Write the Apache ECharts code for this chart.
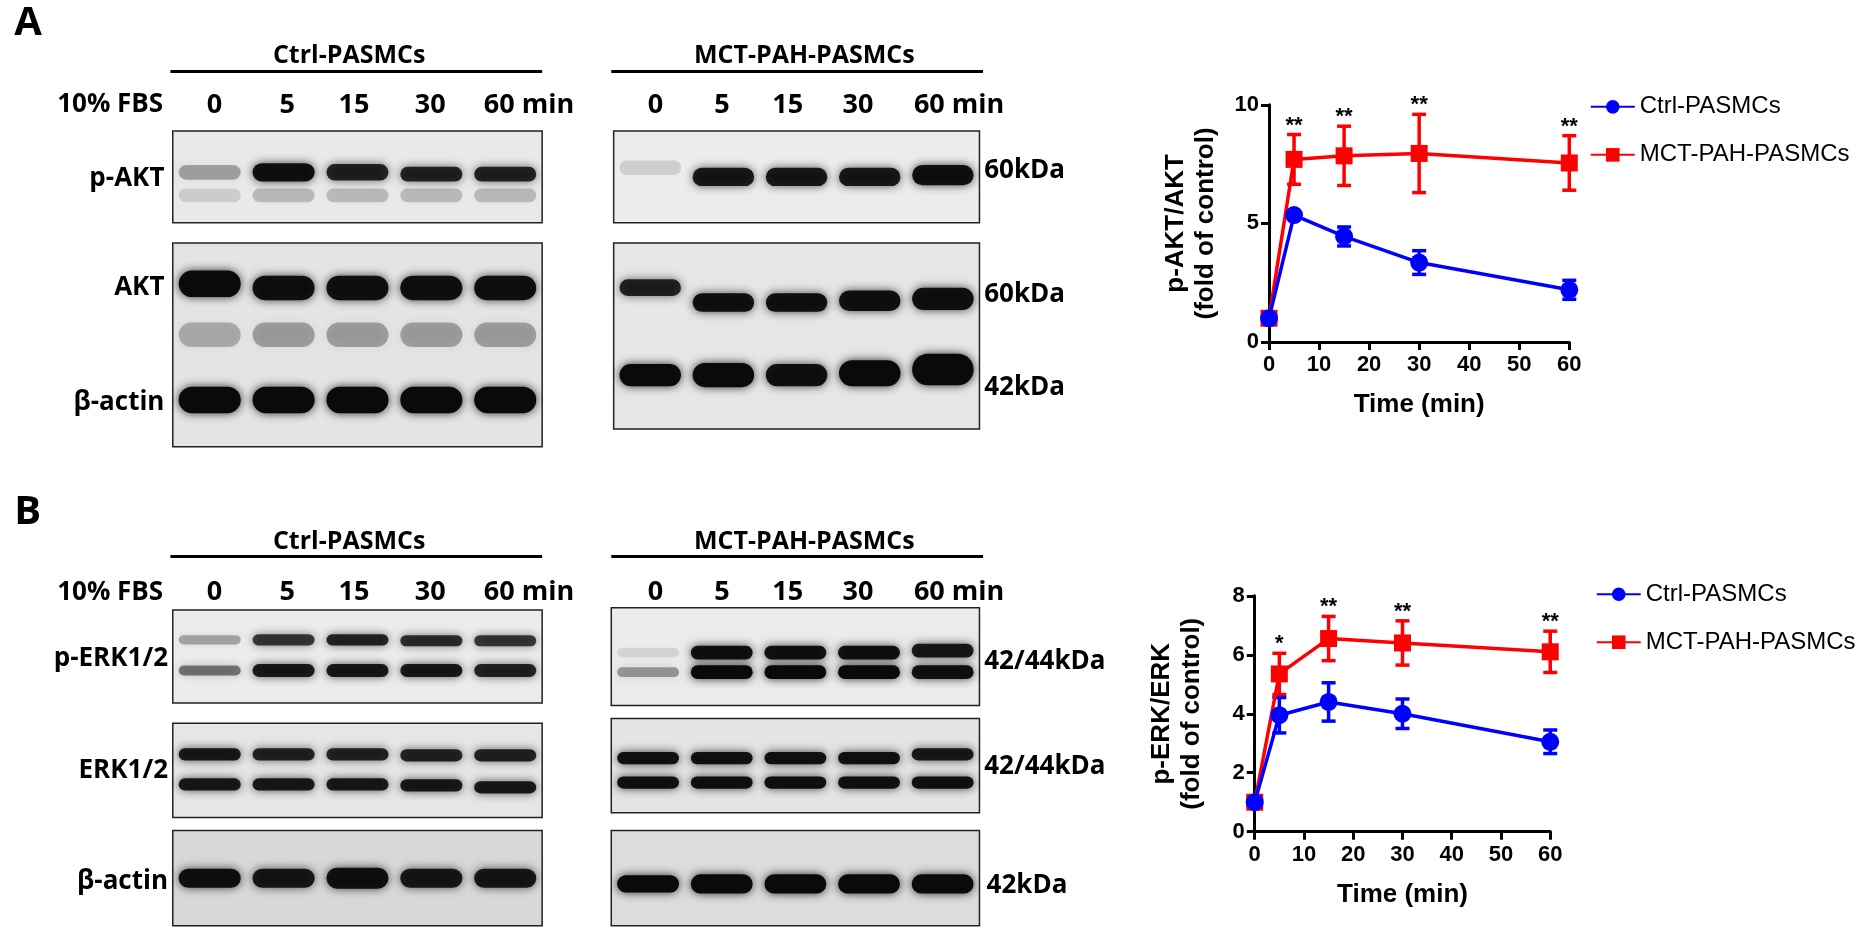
<!DOCTYPE html>
<html><head><meta charset="utf-8">
<script src="https://cdn.jsdelivr.net/npm/echarts@6/dist/echarts.min.js"></script>
<style>html,body{margin:0;background:#fff}#c{width:1866px;height:945px}</style></head>
<body><div id="c"></div>
<script>
// ---- data ----
const timePoints = [0, 5, 15, 30, 60];
const aktCtrl = [1, 5.35, 4.45, 3.35, 2.2];
const aktCtrlErr = [0.05, 0.1, 0.4, 0.5, 0.4];
const aktMct = [1, 7.7, 7.85, 7.95, 7.55];
const aktMctErr = [0.05, 1.05, 1.25, 1.65, 1.15];
const aktStars = ['', '**', '**', '**', '**'];
const erkCtrl = [1, 3.95, 4.4, 4.0, 3.05];
const erkCtrlErr = [0.05, 0.6, 0.65, 0.5, 0.4];
const erkMct = [1, 5.35, 6.55, 6.4, 6.1];
const erkMctErr = [0.05, 0.7, 0.75, 0.75, 0.7];
const erkStars = ['', '*', '**', '**', '**'];
const laneLabels = ['0', '5', '15', '30', '60 min'];
// blot bands: [lane, vertical fraction, darkness, thickness fraction]
const pAktCtrl = [[0,0.45,0.3,0.16],[1,0.45,0.95,0.2],[2,0.45,0.85,0.18],[3,0.47,0.85,0.16],[4,0.47,0.85,0.16],[0,0.7,0.12,0.15],[1,0.7,0.2,0.15],[2,0.7,0.2,0.15],[3,0.7,0.2,0.15],[4,0.7,0.2,0.15]];
const pAktMct = [[0,0.4,0.12,0.16],[1,0.5,0.9,0.2],[2,0.5,0.9,0.2],[3,0.5,0.9,0.2],[4,0.48,0.95,0.22]];
const aktActCtrl = [[0,0.2,1,0.13],[1,0.22,0.95,0.12],[2,0.22,0.95,0.12],[3,0.22,0.95,0.12],[4,0.22,0.95,0.12],[0,0.45,0.25,0.12],[1,0.45,0.3,0.12],[2,0.45,0.3,0.12],[3,0.45,0.3,0.12],[4,0.45,0.3,0.12],[0,0.77,1,0.13],[1,0.77,1,0.13],[2,0.77,1,0.13],[3,0.77,1,0.13],[4,0.77,1,0.13]];
const aktActMct = [[0,0.24,0.85,0.09],[1,0.32,0.95,0.1],[2,0.32,0.95,0.1],[3,0.31,0.95,0.11],[4,0.3,0.95,0.12],[0,0.71,1,0.12],[1,0.71,1,0.13],[2,0.71,0.95,0.12],[3,0.7,1,0.14],[4,0.68,1,0.17]];
const pErkCtrl = [[0,0.32,0.3,0.1],[1,0.32,0.75,0.12],[2,0.32,0.85,0.12],[3,0.33,0.8,0.12],[4,0.33,0.75,0.12],[0,0.65,0.5,0.11],[1,0.65,0.9,0.14],[2,0.65,0.9,0.14],[3,0.65,0.9,0.14],[4,0.65,0.85,0.14]];
const pErkMct = [[0,0.46,0.1,0.1],[1,0.46,0.95,0.14],[2,0.46,0.95,0.14],[3,0.46,0.95,0.14],[4,0.44,0.9,0.14],[0,0.66,0.35,0.1],[1,0.66,1,0.14],[2,0.66,1,0.14],[3,0.66,1,0.14],[4,0.66,0.95,0.14]];
const erkCtrlBl = [[0,0.33,0.9,0.13],[1,0.33,0.85,0.13],[2,0.33,0.85,0.13],[3,0.34,0.85,0.13],[4,0.34,0.85,0.13],[0,0.65,0.9,0.13],[1,0.65,0.9,0.13],[2,0.65,0.9,0.13],[3,0.66,0.9,0.13],[4,0.68,0.9,0.13]];
const erkMctBl = [[0,0.42,0.95,0.13],[1,0.42,0.95,0.13],[2,0.42,0.95,0.13],[3,0.42,0.95,0.13],[4,0.38,0.9,0.13],[0,0.68,0.95,0.13],[1,0.68,0.95,0.13],[2,0.68,0.95,0.13],[3,0.68,0.95,0.13],[4,0.68,0.95,0.13]];
const actCtrlBl = [[0,0.5,0.95,0.2],[1,0.5,0.9,0.2],[2,0.5,0.95,0.22],[3,0.5,0.9,0.2],[4,0.5,0.9,0.2]];
const actMctBl = [[0,0.56,1,0.18],[1,0.56,1,0.2],[2,0.56,1,0.2],[3,0.56,1,0.2],[4,0.56,1,0.2]];

// ---- layout (reference px scaled) ----
const S = 1866 / 1566;
const p = v => v * S;
const blots = [
  [145,110,455,187,pAktCtrl,'#e9e9e9'],[515,110,822,187,pAktMct,'#ececec'],
  [145,204,455,375,aktActCtrl,'#e4e4e4'],[515,204,822,360,aktActMct,'#e6e6e6'],
  [145,512,455,590,pErkCtrl,'#ececec'],[513,510,822,592,pErkMct,'#ebebeb'],
  [145,607,455,686,erkCtrlBl,'#e6e6e6'],[513,603,822,682,erkMctBl,'#e4e4e4'],
  [145,697,455,777,actCtrlBl,'#d8d8d8'],[513,697,822,777,actMctBl,'#dcdcdc']
];
const grids = [], xAxes = [], yAxes = [], series = [];
blots.forEach((b, i) => {
  grids.push({left:p(b[0]), top:p(b[1]), width:p(b[2]-b[0]), height:p(b[3]-b[1]), show:true, backgroundColor:b[5], borderColor:'#222', borderWidth:1.5});
  xAxes.push({gridIndex:i, type:'value', min:0, max:5, show:false});
  yAxes.push({gridIndex:i, type:'value', min:0, max:1, inverse:true, show:false});
  series.push({type:'custom', xAxisIndex:i, yAxisIndex:i, data:b[4], silent:true, clip:true,
    renderItem:(params, api) => {
      const c = api.coord([api.value(0)+0.5, api.value(1)]);
      const w = api.size([0.84, 0])[0];
      const h = api.size([0, api.value(3)])[1];
      return {type:'rect', shape:{x:c[0]-w/2, y:c[1]-h/2, width:w, height:h, r:h/2},
        style:{fill:'rgba(10,10,10,'+api.value(2)+')', shadowBlur:10, shadowColor:'rgba(0,0,0,'+(api.value(2)*0.8)+')'}};
    }});
});

const charts = [
  {g:[p(1065),p(88),p(252),p(199)], ymax:10, yint:5, ctrl:aktCtrl, ce:aktCtrlErr, mct:aktMct, me:aktMctErr, stars:aktStars, name:'p-AKT/AKT\n(fold of control)', leg:p(88), lx:p(1330)},
  {g:[p(1053),p(500),p(248),p(198)], ymax:8, yint:2, ctrl:erkCtrl, ce:erkCtrlErr, mct:erkMct, me:erkMctErr, stars:erkStars, name:'p-ERK/ERK\n(fold of control)', leg:p(497), lx:p(1335)}
];
const legends = [];
const font = 'Liberation Sans';
charts.forEach((c, k) => {
  const gi = grids.length;
  grids.push({left:c.g[0], top:c.g[1], width:c.g[2], height:c.g[3]});
  xAxes.push({gridIndex:gi, type:'value', min:0, max:60, interval:10,
    name:'Time (min)', nameLocation:'middle', nameGap:50, nameTextStyle:{fontFamily:font, fontWeight:'bold', fontSize:26, color:'#000'},
    axisLine:{lineStyle:{color:'#000', width:3}}, axisTick:{length:8, lineStyle:{width:3, color:'#000'}},
    axisLabel:{fontFamily:font, fontWeight:'bold', fontSize:22, color:'#000', margin:12}, splitLine:{show:false}});
  yAxes.push({gridIndex:gi, type:'value', min:0, max:c.ymax, interval:c.yint,
    name:c.name, nameLocation:'middle', nameGap:48, nameRotate:90, nameTextStyle:{fontFamily:font, fontWeight:'bold', fontSize:26, color:'#000', lineHeight:30},
    axisLine:{show:true, lineStyle:{color:'#000', width:3}}, axisTick:{show:true, length:8, lineStyle:{width:3, color:'#000'}},
    axisLabel:{fontFamily:font, fontWeight:'bold', fontSize:22, color:'#000', margin:10}, splitLine:{show:false}});
  const mk = (name, vals, errs, color, sym, stars) => {
    const pts = timePoints.map((t, i) => [t, vals[i]]);
    series.push({type:'line', name, xAxisIndex:gi, yAxisIndex:gi, data:pts, color,
      lineStyle:{width:3.5, color}, symbol:sym, symbolSize:sym==='circle'?18:17, itemStyle:{color}, z:sym==='circle'?4:3});
    series.push({type:'custom', xAxisIndex:gi, yAxisIndex:gi, silent:true, z:2,
      data:timePoints.map((t, i) => [t, vals[i], errs[i], i]),
      renderItem:(params, api) => {
        const x = api.value(0), y = api.value(1), e = api.value(2);
        const top = api.coord([x, y+e]), bot = api.coord([x, y-e]);
        const st = {stroke:color, lineWidth:3.5};
        const ch = [
          {type:'line', shape:{x1:top[0], y1:top[1], x2:bot[0], y2:bot[1]}, style:st},
          {type:'line', shape:{x1:top[0]-7, y1:top[1], x2:top[0]+7, y2:top[1]}, style:st},
          {type:'line', shape:{x1:bot[0]-7, y1:bot[1], x2:bot[0]+7, y2:bot[1]}, style:st}];
        if (stars) ch.push({type:'text', style:{text:stars[api.value(3)], x:top[0], y:top[1]+2, align:'center', verticalAlign:'bottom', font:'bold 22px "Liberation Sans"', fill:'#000'}});
        return {type:'group', children:ch};
      }});
  };
  mk('MCT-PAH-PASMCs', c.mct, c.me, '#ff0000', 'rect', c.stars);
  mk('Ctrl-PASMCs', c.ctrl, c.ce, '#0000ff', 'circle', null);
  legends.push({orient:'vertical', left:c.lx, top:c.leg-15, itemGap:24, itemWidth:44, itemHeight:17,
    data:['Ctrl-PASMCs','MCT-PAH-PASMCs'], textStyle:{fontFamily:font, fontSize:24, color:'#000'}});
});

// ---- text ----
const T = (text, x, y, opt={}) => ({type:'text', x:p(x), y:p(y), style:Object.assign({text, font:'bold '+(opt.size||26)+'px "Open Sans"', fill:'#000', textAlign:opt.align||'left', textVerticalAlign:'middle'}, opt.st||{})});
const Lh = (x1, x2, y) => ({type:'line', shape:{x1:p(x1), y1:p(y), x2:p(x2), y2:p(y)}, style:{stroke:'#000', lineWidth:3}});
const laneX = [[180,241,297,361,424],[550,606,661,720,785]];
const g = [];
g.push(T('A', 12, 20, {size:40}), T('B', 12, 430, {size:40}));
[[47,60,88],[455,467,497]].forEach(([ty, ly, lay]) => {
  g.push(T('Ctrl-PASMCs', 293, ty, {align:'center', size:25}), Lh(143,455,ly));
  g.push(T('MCT-PAH-PASMCs', 675, ty, {align:'center', size:25}), Lh(513,825,ly));
  g.push(T('10% FBS', 48, lay, {size:26}));
  laneX.forEach(xs => xs.forEach((x, i) => g.push(T(laneLabels[i], i===4 ? x-18 : x, lay, {align:i===4?'left':'center', size:27}))));
});
[['p-AKT',138,150],['AKT',138,241],['β-actin',138,338],['p-ERK1/2',141,553],['ERK1/2',141,647],['β-actin',141,740]].forEach(a => g.push(T(a[0], a[1], a[2], {align:'right', size:26})));
[['60kDa',826,143],['60kDa',826,247],['42kDa',826,325],['42/44kDa',826,555],['42/44kDa',826,643],['42kDa',828,743]].forEach(a => g.push(T(a[0], a[1], a[2], {size:26})));

const chart = echarts.init(document.getElementById('c'));
chart.setOption({animation:false, backgroundColor:'#fff', grid:grids, xAxis:xAxes, yAxis:yAxes, series, legend:legends, graphic:g});
</script></body></html>
